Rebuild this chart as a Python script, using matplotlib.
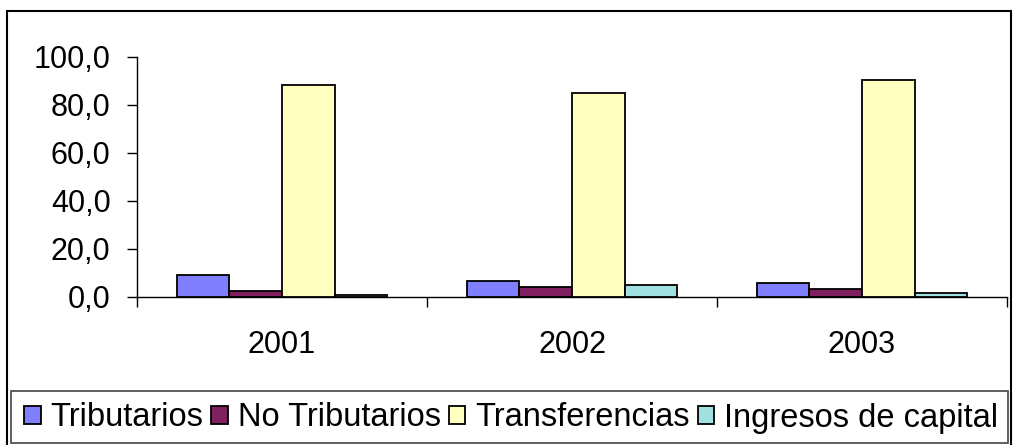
import matplotlib
matplotlib.use("Agg")
import matplotlib.pyplot as plt
from matplotlib.patches import Rectangle
import numpy as np

plt.rcParams['font.family'] = ['Liberation Sans', 'DejaVu Sans']

years = ['2001', '2002', '2003']
series = ['Tributarios', 'No Tributarios', 'Transferencias', 'Ingresos de capital']
tributarios = [9.3, 6.5, 5.7]
no_tributarios = [2.6, 4.2, 3.2]
transferencias = [88.2, 84.8, 90.6]
ingresos_capital = [0.9, 5.0, 1.7]
colors = ['#8080FF', '#802060', '#FFFFC0', '#A0E0E0']

W, H = 1013, 445
fig = plt.figure(figsize=(W / 100, H / 100), dpi=100)
ax = fig.add_axes([137 / W, 1 - 297 / H, (1007 - 137) / W, (297 - 57) / H])

values = [tributarios, no_tributarios, transferencias, ingresos_capital]
bw = 0.727 / 4
x = np.arange(len(years))
for i, (name, vals) in enumerate(zip(series, values)):
    ax.bar(x - 0.3635 + bw * (i + 0.5), vals, bw, color=colors[i],
           edgecolor='black', linewidth=1.3, label=name, zorder=3)

ax.set_xlim(-0.5, len(years) - 0.5)
ax.set_ylim(0, 100)
ax.set_yticks(np.arange(0, 101, 20))
ax.set_yticklabels([f'{v:.1f}'.replace('.', ',') for v in range(0, 101, 20)])
ax.set_xticks(x)
ax.set_xticklabels(years)
ax.set_xticks(np.arange(-0.5, len(years), 1), minor=True)
ax.tick_params(axis='x', which='major', length=0, pad=24, labelsize=22)
ax.tick_params(axis='x', which='minor', length=7, width=1, direction='out')
ax.tick_params(axis='y', length=7, width=1, direction='out', pad=12, labelsize=22)
for s in ['top', 'right']:
    ax.spines[s].set_visible(False)
for s in ['left', 'bottom']:
    ax.spines[s].set_linewidth(1)

# outer frame and legend frame
fig.patches.append(Rectangle((6.5 / W, -0.05), (1010.5 - 6.5) / W, 1.05 - 10.5 / H,
                             transform=fig.transFigure, fill=False,
                             edgecolor='black', linewidth=1.5))
fig.patches.append(Rectangle((11 / W, 1 - 443 / H), (1008 - 11) / W, (443 - 391) / H,
                             transform=fig.transFigure, fill=False,
                             edgecolor='#444444', linewidth=1.2))

handles, labels = ax.get_legend_handles_labels()
fig.legend(handles, labels, loc='center', bbox_to_anchor=(511 / W, 1 - 418 / H),
           ncol=4, frameon=False, fontsize=23.5, handlelength=0.5, handleheight=0.5,
           handletextpad=0.3, columnspacing=0.25, borderpad=0, borderaxespad=0)

fig.savefig('out.png', dpi=100)
